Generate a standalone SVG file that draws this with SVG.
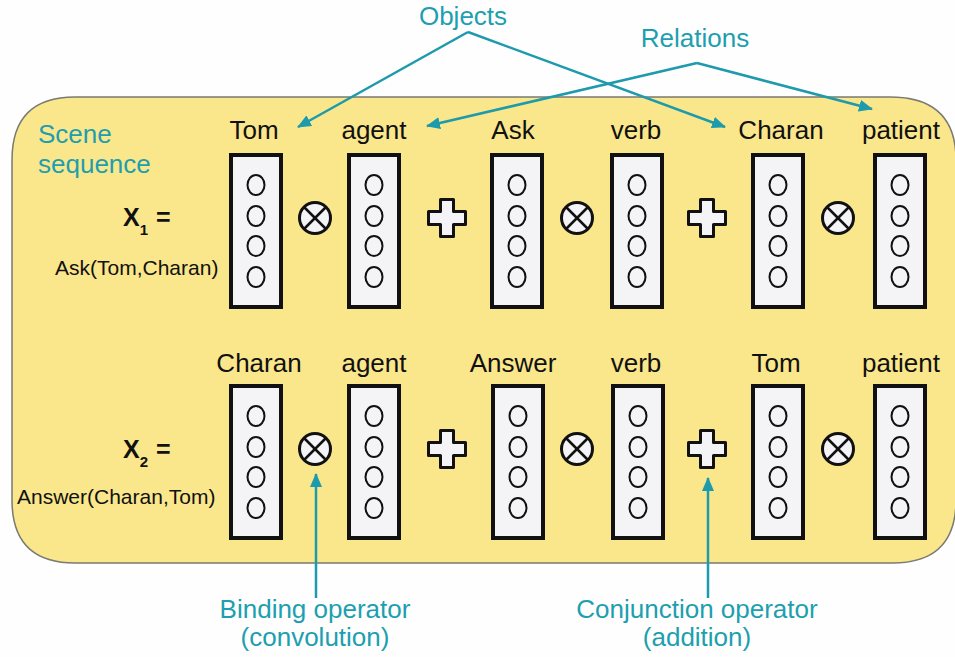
<svg xmlns="http://www.w3.org/2000/svg" width="955" height="657" viewBox="0 0 955 657">
  <defs>
    <style>
      .lbl { font-family: "Liberation Sans", Arial, sans-serif; font-size: 26px; fill: #111; text-anchor: middle; }
      .teal { font-family: "Liberation Sans", Arial, sans-serif; font-size: 26px; fill: #1d9fb0; }
      .eq { font-family: "Liberation Sans", Arial, sans-serif; font-weight: bold; fill: #111; }
      .pred { font-family: "Liberation Sans", Arial, sans-serif; font-size: 21px; fill: #111; }
      .vec { fill: #f4f4f6; stroke: #111; stroke-width: 4; }
      .unit { fill: none; stroke: #111; stroke-width: 2; }
      .op { fill: #f4f4f6; stroke: #111; stroke-width: 3; }
      .opx { stroke: #111; stroke-width: 2.5; }
      .link { fill: none; stroke: #1d9aac; stroke-width: 2.5; }
    </style>
    <marker id="ah" viewBox="0 0 14 12" refX="13" refY="6" markerWidth="14" markerHeight="12" markerUnits="userSpaceOnUse" orient="auto">
      <path d="M0,0 L14,6 L0,12 z" fill="#1d9aac"/>
    </marker>
    <!-- role/filler vector: a tall box holding four units -->
    <g id="vector">
      <rect class="vec" x="0" y="0" width="50" height="152"/>
      <ellipse class="unit" cx="25" cy="30" rx="8.5" ry="10"/>
      <ellipse class="unit" cx="25" cy="61" rx="8.5" ry="10"/>
      <ellipse class="unit" cx="25" cy="91" rx="8.5" ry="10"/>
      <ellipse class="unit" cx="25" cy="122" rx="8.5" ry="10"/>
    </g>
    <!-- circled times: binding -->
    <g id="bind">
      <circle class="op" cx="0" cy="0" r="15.5"/>
      <line class="opx" x1="-10.5" y1="-10.5" x2="10.5" y2="10.5"/>
      <line class="opx" x1="-10.5" y1="10.5" x2="10.5" y2="-10.5"/>
    </g>
    <!-- plus: conjunction -->
    <g id="plus">
      <path class="op" stroke-linejoin="round" d="M-6.5,-18.5 H6.5 V-6.5 H18.5 V6.5 H6.5 V18.5 H-6.5 V6.5 H-18.5 V-6.5 H-6.5 Z"/>
    </g>
  </defs>

  <rect x="0" y="0" width="955" height="657" fill="#fefefe"/>

  <!-- scene panel -->
  <path d="M12,160 Q12,97 75,97 H890 Q956,97 956,160 V500 Q956,563 893,563 H75 Q12,563 12,500 Z" fill="#fae78b" stroke="#7a7a72" stroke-width="1.5"/>

  <text class="teal" x="38" y="143">Scene</text>
  <text class="teal" x="38" y="173">sequence</text>

  <!-- sentence 1 -->
  <g id="x1">
    <text class="eq" x="123" y="226" font-size="25">X<tspan font-size="15" dy="9">1</tspan><tspan dy="-9" dx="8">=</tspan></text>
    <text class="pred" x="55" y="275">Ask(Tom,Charan)</text>
  </g>
  <g id="r1-tom"><text class="lbl" x="254" y="139">Tom</text><use href="#vector" x="231" y="155"/></g>
  <g id="r1-bind1"><use href="#bind" x="315" y="218"/></g>
  <g id="r1-agent"><text class="lbl" x="374" y="139">agent</text><use href="#vector" x="349" y="155"/></g>
  <g id="r1-plus1"><use href="#plus" x="447" y="218"/></g>
  <g id="r1-ask"><text class="lbl" x="513" y="139">Ask</text><use href="#vector" x="492" y="155"/></g>
  <g id="r1-bind2"><use href="#bind" x="577" y="218"/></g>
  <g id="r1-verb"><text class="lbl" x="636" y="139">verb</text><use href="#vector" x="612" y="155"/></g>
  <g id="r1-plus2"><use href="#plus" x="707" y="218"/></g>
  <g id="r1-charan"><text class="lbl" x="781" y="139">Charan</text><use href="#vector" x="753" y="155"/></g>
  <g id="r1-bind3"><use href="#bind" x="838" y="218"/></g>
  <g id="r1-patient"><text class="lbl" x="901" y="139">patient</text><use href="#vector" x="875" y="155"/></g>

  <!-- sentence 2 -->
  <g id="x2">
    <text class="eq" x="123" y="458" font-size="25">X<tspan font-size="15" dy="9">2</tspan><tspan dy="-9" dx="8">=</tspan></text>
    <text class="pred" x="17" y="504">Answer(Charan,Tom)</text>
  </g>
  <g id="r2-charan"><text class="lbl" x="259" y="372">Charan</text><use href="#vector" x="231" y="386"/></g>
  <g id="r2-bind1"><use href="#bind" x="315" y="449"/></g>
  <g id="r2-agent"><text class="lbl" x="374" y="372">agent</text><use href="#vector" x="349" y="386"/></g>
  <g id="r2-plus1"><use href="#plus" x="447" y="449"/></g>
  <g id="r2-answer"><text class="lbl" x="513" y="372">Answer</text><use href="#vector" x="493" y="386"/></g>
  <g id="r2-bind2"><use href="#bind" x="577" y="449"/></g>
  <g id="r2-verb"><text class="lbl" x="636" y="372">verb</text><use href="#vector" x="613" y="386"/></g>
  <g id="r2-plus2"><use href="#plus" x="707" y="449"/></g>
  <g id="r2-tom"><text class="lbl" x="776" y="372">Tom</text><use href="#vector" x="753" y="386"/></g>
  <g id="r2-bind3"><use href="#bind" x="838" y="449"/></g>
  <g id="r2-patient"><text class="lbl" x="901" y="372">patient</text><use href="#vector" x="875" y="386"/></g>

  <!-- callout labels -->
  <g id="objects"><text class="teal" x="463" y="25" text-anchor="middle">Objects</text></g>
  <g id="relations"><text class="teal" x="695" y="47" text-anchor="middle">Relations</text></g>
  <g id="binding"><text class="teal" x="315" y="618" text-anchor="middle">Binding operator</text><text class="teal" x="315" y="646" text-anchor="middle">(convolution)</text></g>
  <g id="conjunction"><text class="teal" x="697" y="618" text-anchor="middle">Conjunction operator</text><text class="teal" x="697" y="646" text-anchor="middle">(addition)</text></g>

  <!-- connectors -->
  <g id="connectors">
    <path class="link" d="M468,32 L298,127" marker-end="url(#ah)"/>
    <path class="link" d="M468,32 L725,127" marker-end="url(#ah)"/>
    <path class="link" d="M697,63 L427,126" marker-end="url(#ah)"/>
    <path class="link" d="M697,63 L872,109" marker-end="url(#ah)"/>
    <path class="link" d="M316,598 L316,474" marker-end="url(#ah)"/>
    <path class="link" d="M708,598 L708,478" marker-end="url(#ah)"/>
  </g>
</svg>
